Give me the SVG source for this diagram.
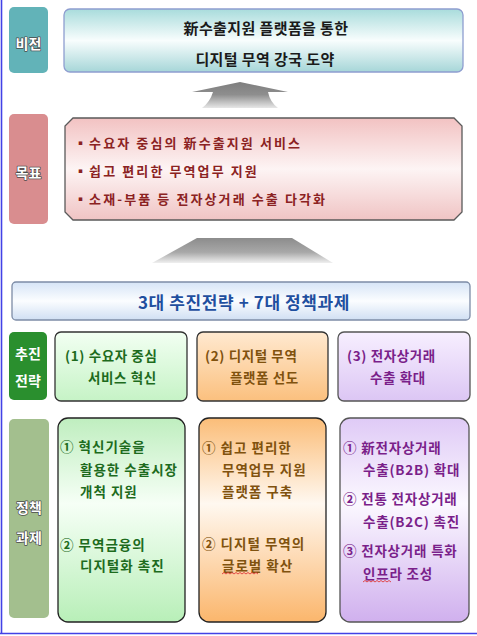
<svg xmlns="http://www.w3.org/2000/svg" width="477" height="636" viewBox="0 0 477 636">
<defs>
  <linearGradient id="gVision" x1="0" y1="0" x2="0" y2="1">
    <stop offset="0" stop-color="#a9dcdc"/>
    <stop offset="0.5" stop-color="#f8fdfd"/>
    <stop offset="1" stop-color="#a6d6d8"/>
  </linearGradient>
  <linearGradient id="gGoal" x1="0" y1="0" x2="0" y2="1">
    <stop offset="0" stop-color="#f2c2c2"/>
    <stop offset="0.5" stop-color="#fdf4f4"/>
    <stop offset="1" stop-color="#f0c4c4"/>
  </linearGradient>
  <linearGradient id="gBar" x1="0" y1="0" x2="0" y2="1">
    <stop offset="0" stop-color="#d6e4f6"/>
    <stop offset="0.5" stop-color="#fbfdff"/>
    <stop offset="1" stop-color="#d0dff3"/>
  </linearGradient>
  <linearGradient id="gS1" x1="0" y1="0" x2="0" y2="1">
    <stop offset="0" stop-color="#f2fff2"/>
    <stop offset="1" stop-color="#c6f3c6"/>
  </linearGradient>
  <linearGradient id="gS2" x1="0" y1="0" x2="0" y2="1">
    <stop offset="0" stop-color="#ffe9d0"/>
    <stop offset="1" stop-color="#fbc07e"/>
  </linearGradient>
  <linearGradient id="gS3" x1="0" y1="0" x2="0" y2="1">
    <stop offset="0" stop-color="#f7efff"/>
    <stop offset="1" stop-color="#dcc6f4"/>
  </linearGradient>
  <linearGradient id="gP1" x1="0" y1="0" x2="0" y2="1">
    <stop offset="0" stop-color="#bfeebf"/>
    <stop offset="0.42" stop-color="#f6fff6"/>
    <stop offset="1" stop-color="#b8efb8"/>
  </linearGradient>
  <linearGradient id="gP2" x1="0" y1="0" x2="0" y2="1">
    <stop offset="0" stop-color="#fbbd78"/>
    <stop offset="0.42" stop-color="#fff8f0"/>
    <stop offset="1" stop-color="#fbb66c"/>
  </linearGradient>
  <linearGradient id="gP3" x1="0" y1="0" x2="0" y2="1">
    <stop offset="0" stop-color="#dfcaf6"/>
    <stop offset="0.42" stop-color="#fbf8ff"/>
    <stop offset="1" stop-color="#d0b0ee"/>
  </linearGradient>
  <linearGradient id="gArrow1" gradientUnits="userSpaceOnUse" x1="0" y1="82" x2="0" y2="110">
    <stop offset="0" stop-color="#7e7e7e"/>
    <stop offset="0.45" stop-color="#8e8e8e"/>
    <stop offset="1" stop-color="#f4f4f4"/>
  </linearGradient>
  <linearGradient id="gArrow2" gradientUnits="userSpaceOnUse" x1="0" y1="238" x2="0" y2="264">
    <stop offset="0" stop-color="#8c8c8c"/>
    <stop offset="0.55" stop-color="#a8a8a8"/>
    <stop offset="1" stop-color="#f6f6f6"/>
  </linearGradient>
  <filter id="soft" x="-10%" y="-30%" width="120%" height="160%">
    <feGaussianBlur stdDeviation="0.7"/>
  </filter>
</defs>
<style>
  text { font-family: "Noto Sans CJK KR", "Noto Sans", sans-serif; font-weight: bold; dominant-baseline: central; }
  .lab { fill: #ffffff; font-size: 14px; text-anchor: middle; stroke: #4a4a4a; stroke-width: 1.4px; paint-order: stroke; stroke-linejoin: round; }
  .labg { fill: #ffffff; font-size: 14px; text-anchor: middle; }
  .vis { fill: #1a1a1a; font-size: 15px; text-anchor: middle; letter-spacing: 0.4px; }
  .goal { fill: #8b2222; font-size: 13px; letter-spacing: 2.1px; }
  .bar { fill: #1f4f9f; font-size: 17px; text-anchor: middle; letter-spacing: 0.6px; }
  .s1 { fill: #1d6b1d; font-size: 13.5px; letter-spacing: 0.6px; }
  .s2 { fill: #80520e; font-size: 13.5px; letter-spacing: 0.6px; }
  .s3 { fill: #7a1f8a; font-size: 13.5px; letter-spacing: 0.6px; }
  .p1 { fill: #1d6b1d; font-size: 13.5px; letter-spacing: 1px; }
  .p2 { fill: #80520e; font-size: 13.5px; letter-spacing: 1px; }
  .p3 { fill: #7a1f8a; font-size: 13.5px; letter-spacing: 0.8px; }
  .sq { fill: none; stroke: #e03a3a; stroke-width: 0.9; }
</style>

<g id="frame">
  <line x1="1.5" y1="0" x2="1.5" y2="634" stroke="#4242e6" stroke-width="1.6"/>
  <line x1="0" y1="633.5" x2="477" y2="633.5" stroke="#4242e6" stroke-width="1.6"/>
</g>

<g id="vision-label">
  <rect x="9" y="7" width="39" height="66" rx="5" fill="#62b3b8"/>
  <text class="lab" x="28.5" y="43">비전</text>
</g>
<g id="vision">
  <rect x="64" y="9" width="399" height="63" rx="6" fill="url(#gVision)" stroke="#8e9dd0" stroke-width="1.3"/>
  <text class="vis" x="266" y="27">新수출지원 플랫폼을 통한</text>
  <text class="vis" x="265" y="58">디지털 무역 강국 도약</text>
</g>

<g id="goal-label">
  <rect x="9" y="114" width="39" height="110" rx="5" fill="#d98d8f"/>
  <text class="lab" x="28.5" y="172">목표</text>
</g>
<g id="goal">
  <polygon points="73,118 454,118 462,126 462,212 454,220 73,220 65,212 65,126" fill="url(#gGoal)" stroke="#5a5a5a" stroke-width="1.3"/>
  <text class="goal" x="74" y="142">▪수요자 중심의 新수출지원 서비스</text>
  <text class="goal" x="74" y="170">▪쉽고 편리한 무역업무 지원</text>
  <text class="goal" x="74" y="198">▪소재-부품 등 전자상거래 수출 다각화</text>
</g>

<g id="connectors">
  <path d="M240,82 L288,92 L268,92 Q270,102 278,108 L202,108 Q210,102 213,92 L192,92 Z" fill="url(#gArrow1)" filter="url(#soft)"/>
  <polygon points="197,238 292,238 333,263 152,263" fill="url(#gArrow2)" filter="url(#soft)"/>
</g>

<g id="summary-bar">
  <rect x="12" y="282" width="458" height="38" rx="4" fill="url(#gBar)" stroke="#7d8ca6" stroke-width="1.3"/>
  <text class="bar" x="244" y="301">3대 추진전략 + 7대 정책과제</text>
</g>

<g id="strategy-label">
  <rect x="9" y="332" width="38" height="68" rx="5" fill="#2a8f2e"/>
  <text class="labg" x="28" y="353">추진</text>
  <text class="labg" x="28" y="380">전략</text>
</g>
<g id="strategy-1">
  <rect x="55" y="332" width="132" height="69" rx="6" fill="url(#gS1)" stroke="#333333" stroke-width="1.3"/>
  <text class="s1" x="65" y="355">(1) 수요자 중심</text>
  <text class="s1" x="88" y="377">서비스 혁신</text>
</g>
<g id="strategy-2">
  <rect x="197" y="332" width="131" height="69" rx="6" fill="url(#gS2)" stroke="#333333" stroke-width="1.3"/>
  <text class="s2" x="205" y="355">(2) 디지털 무역</text>
  <text class="s2" x="230" y="377">플랫폼 선도</text>
</g>
<g id="strategy-3">
  <rect x="338" y="332" width="132" height="69" rx="6" fill="url(#gS3)" stroke="#555555" stroke-width="1.3"/>
  <text class="s3" x="347" y="355">(3) 전자상거래</text>
  <text class="s3" x="370" y="377">수출 확대</text>
</g>

<g id="policy-label">
  <rect x="9" y="419" width="40" height="199" rx="5" fill="#a3bf8e"/>
  <text class="lab" x="29" y="507">정책</text>
  <text class="lab" x="29" y="537">과제</text>
</g>
<g id="policy-1">
  <rect x="58" y="418" width="127" height="204" rx="10" fill="url(#gP1)" stroke="#222222" stroke-width="1.3"/>
  <text class="p1" x="60" y="446">① 혁신기술을</text>
  <text class="p1" x="80" y="469">활용한 수출시장</text>
  <text class="p1" x="80" y="491">개척 지원</text>
  <text class="p1" x="60" y="544">② 무역금융의</text>
  <text class="p1" x="80" y="565">디지털화 촉진</text>
</g>
<g id="policy-2">
  <rect x="199" y="418" width="127" height="204" rx="10" fill="url(#gP2)" stroke="#222222" stroke-width="1.3"/>
  <text class="p2" x="202" y="447">① 쉽고 편리한</text>
  <text class="p2" x="222" y="469">무역업무 지원</text>
  <text class="p2" x="222" y="491">플랫폼 구축</text>
  <text class="p2" x="202" y="543">② 디지털 무역의</text>
  <text class="p2" x="222" y="565">글로벌 확산</text>
  <path class="sq" d="M222,574 l2,-1.5 l2,1.5 l2,-1.5 l2,1.5 l2,-1.5 l2,1.5 l2,-1.5 l2,1.5 l2,-1.5 l2,1.5 l2,-1.5 l2,1.5 l2,-1.5 l2,1.5 l2,-1.5 l2,1.5 l2,-1.5 l2,1.5"/>
</g>
<g id="policy-3">
  <rect x="340" y="418" width="129" height="204" rx="10" fill="url(#gP3)" stroke="#555555" stroke-width="1.3"/>
  <text class="p3" x="343" y="447">① 新전자상거래</text>
  <text class="p3" x="363" y="469">수출(B2B) 확대</text>
  <text class="p3" x="343" y="498">② 전통 전자상거래</text>
  <text class="p3" x="363" y="521">수출(B2C) 촉진</text>
  <text class="p3" x="343" y="550">③ 전자상거래 특화</text>
  <text class="p3" x="363" y="573">인프라 조성</text>
  <path class="sq" d="M363,582 l2,-1.5 l2,1.5 l2,-1.5 l2,1.5 l2,-1.5 l2,1.5 l2,-1.5 l2,1.5 l2,-1.5 l2,1.5 l2,-1.5 l2,1.5 l2,-1.5 l2,1.5"/>
</g>
</svg>
